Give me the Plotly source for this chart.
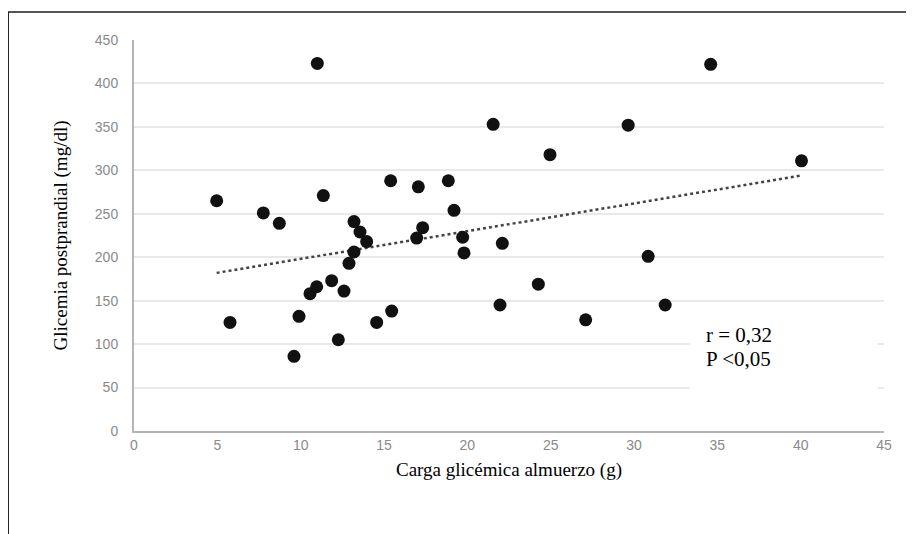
import plotly.graph_objects as go

# Data
carga_glicemica = [4.96, 5.76, 7.76, 8.72, 9.6, 9.9, 10.56, 10.96, 11.0, 11.36,
                   11.86, 12.26, 12.6, 12.9, 13.2, 13.2, 13.56, 13.96, 14.56, 15.4,
                   15.46, 16.96, 17.06, 17.32, 18.86, 19.2, 19.72, 19.8, 21.55, 21.96,
                   22.1, 24.26, 24.96, 27.1, 29.65, 30.85, 31.87, 34.6, 40.05]
glicemia = [265, 125, 251, 239, 86, 132, 158, 166, 423, 271,
            173, 105, 161, 193, 206, 241, 229, 218, 125, 288,
            138, 222, 281, 234, 288, 254, 223, 205, 353, 145,
            216, 169, 318, 128, 352, 201, 145, 422, 311]

trend_x = [4.96, 40.05]
trend_y = [182, 294]

x_ticks = [0, 5, 10, 15, 20, 25, 30, 35, 40, 45]
y_ticks = [0, 50, 100, 150, 200, 250, 300, 350, 400, 450]

stats_lines = ["r = 0,32", "P <0,05"]
stats_y = [110, 83]
x_title = "Carga glicémica almuerzo (g)"
y_title = "Glicemia postprandial (mg/dl)"

fig = go.Figure()

fig.add_trace(go.Scatter(
    x=trend_x, y=trend_y, mode="lines",
    line=dict(color="#444444", width=2.5, dash="dot"),
    showlegend=False, hoverinfo="skip"))

fig.add_trace(go.Scatter(
    x=carga_glicemica, y=glicemia, mode="markers",
    marker=dict(color="#111111", size=13, line=dict(width=0)),
    showlegend=False))

serif = "Liberation Serif, Times New Roman, serif"
tickfont = dict(family="Liberation Sans, Arial, sans-serif", size=14, color="#8a8a8a")

fig.update_layout(
    width=914, height=534,
    margin=dict(l=126, r=38, t=32, b=111),
    paper_bgcolor="white", plot_bgcolor="white",
    xaxis=dict(
        range=[0, 45], tickvals=x_ticks, ticks="", showgrid=False,
        showline=True, linecolor="#b5b5b5", linewidth=2,
        zeroline=False, tickfont=tickfont, ticklabelstandoff=0,
        title=dict(text=x_title, font=dict(family=serif, size=19, color="black"), standoff=11),
    ),
    yaxis=dict(
        range=[0, 450], tickvals=y_ticks, ticks="", showgrid=True,
        gridcolor="#e9e9e9", gridwidth=2,
        showline=True, linecolor="#b5b5b5", linewidth=2,
        zeroline=False, tickfont=tickfont, ticklabelstandoff=11,
        title=dict(text=y_title, font=dict(family=serif, size=19, color="black"), standoff=22),
    ),
    shapes=[
        dict(type="rect", xref="x", yref="y", x0=33.35, x1=44.6, y0=3, y1=143,
             fillcolor="white", line=dict(width=0), layer="between"),
        dict(type="line", xref="paper", yref="paper", x0=-0.168, x1=1.2, y0=1.0716, y1=1.0716,
             line=dict(color="#555555", width=2)),
        dict(type="line", xref="paper", yref="paper", x0=-0.168, x1=-0.168, y0=1.0716, y1=-0.4,
             line=dict(color="#222222", width=2)),
    ],
    annotations=[
        dict(text=t, xref="x", yref="y", x=34.2, y=yv, xanchor="left", yanchor="middle",
             align="left", showarrow=False, font=dict(family=serif, size=21, color="black"))
        for t, yv in zip(stats_lines, stats_y)
    ],
)

fig.write_html("out.html")
